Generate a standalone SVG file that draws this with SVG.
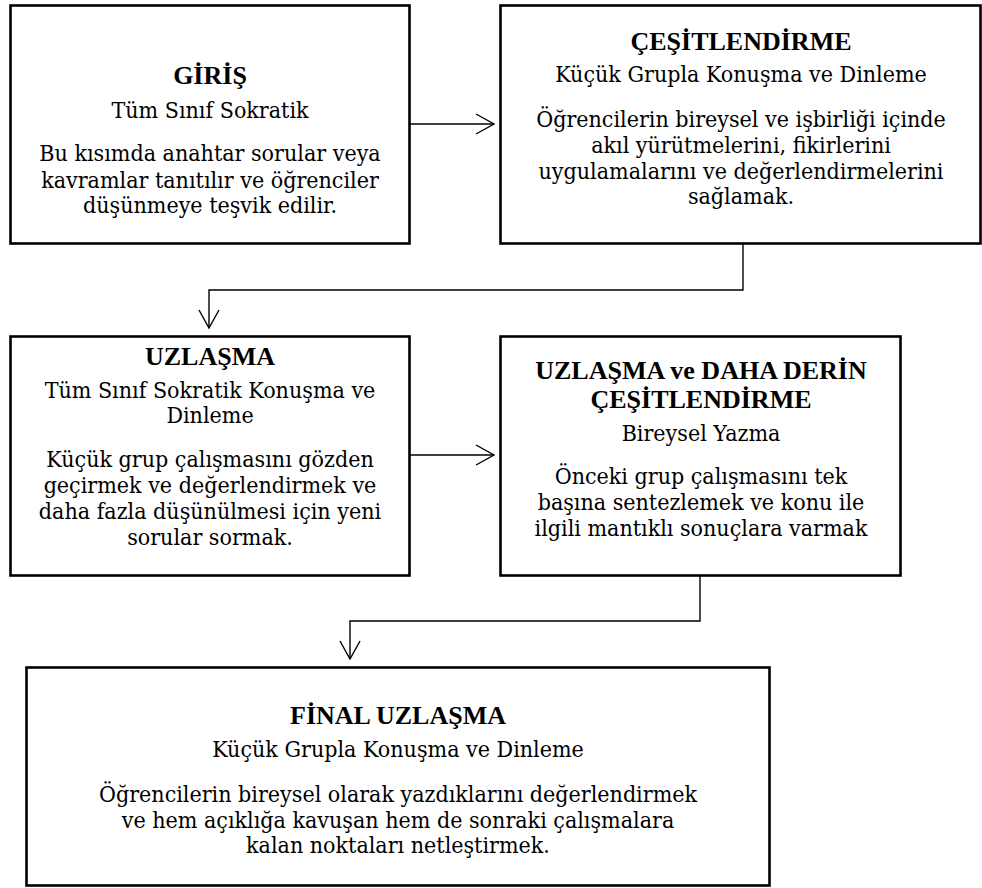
<svg xmlns="http://www.w3.org/2000/svg" width="982" height="888" viewBox="0 0 982 888">
  <style>
    .box { fill: #ffffff; stroke: #000000; stroke-width: 2.6; }
    .link { fill: none; stroke: #000000; stroke-width: 1.4; }
    text { font-family: "DejaVu Serif", serif; font-stretch: condensed; font-size: 23px; fill: #000000; text-anchor: middle; }
    .title { font-family: "Liberation Serif", "DejaVu Serif", serif; font-stretch: normal; font-weight: bold; font-size: 26px; }
  </style>
  <defs>
    <marker id="arrow" markerWidth="20" markerHeight="22" refX="19" refY="11" orient="auto" markerUnits="userSpaceOnUse">
      <path d="M1,1 L19,11 L1,21" fill="none" stroke="#000000" stroke-width="1.4"/>
    </marker>
  </defs>

  <rect width="982" height="888" fill="#ffffff"/>

  <g id="connectors">
    <line class="link" x1="410" y1="124" x2="494" y2="124" marker-end="url(#arrow)"/>
    <polyline class="link" points="743,244 743,290 209,290 209,328" marker-end="url(#arrow)"/>
    <line class="link" x1="410" y1="455" x2="494" y2="455" marker-end="url(#arrow)"/>
    <polyline class="link" points="700,576 700,621 350,621 350,659" marker-end="url(#arrow)"/>
  </g>

  <g id="giris">
    <rect class="box" x="10.5" y="5.5" width="399" height="238"/>
    <text class="title" x="210" y="84">GİRİŞ</text>
    <text x="210" y="118">Tüm Sınıf Sokratik</text>
    <text x="210" y="161">Bu kısımda anahtar sorular veya</text>
    <text x="210" y="188">kavramlar tanıtılır ve öğrenciler</text>
    <text x="210" y="213">düşünmeye teşvik edilir.</text>
  </g>

  <g id="cesitlendirme">
    <rect class="box" x="500.5" y="5.5" width="480" height="238"/>
    <text class="title" x="741" y="50">ÇEŞİTLENDİRME</text>
    <text x="741" y="82">Küçük Grupla Konuşma ve Dinleme</text>
    <text x="741" y="127">Öğrencilerin bireysel ve işbirliği içinde</text>
    <text x="741" y="153">akıl yürütmelerini, fikirlerini</text>
    <text x="741" y="179">uygulamalarını ve değerlendirmelerini</text>
    <text x="741" y="204">sağlamak.</text>
  </g>

  <g id="uzlasma">
    <rect class="box" x="10.5" y="336.5" width="399" height="239"/>
    <text class="title" x="210" y="365">UZLAŞMA</text>
    <text x="210" y="398">Tüm Sınıf Sokratik Konuşma ve</text>
    <text x="210" y="423">Dinleme</text>
    <text x="210" y="467">Küçük grup çalışmasını gözden</text>
    <text x="210" y="493">geçirmek ve değerlendirmek ve</text>
    <text x="210" y="519">daha fazla düşünülmesi için yeni</text>
    <text x="210" y="545">sorular sormak.</text>
  </g>

  <g id="uzlasma-derin">
    <rect class="box" x="500.5" y="336.5" width="400" height="239"/>
    <text class="title" x="701" y="379">UZLAŞMA ve DAHA DERİN</text>
    <text class="title" x="701" y="408">ÇEŞİTLENDİRME</text>
    <text x="701" y="441">Bireysel Yazma</text>
    <text x="701" y="484">Önceki grup çalışmasını tek</text>
    <text x="701" y="510">başına sentezlemek ve konu ile</text>
    <text x="701" y="536">ilgili mantıklı sonuçlara varmak</text>
  </g>

  <g id="final">
    <rect class="box" x="26.5" y="667.5" width="743" height="218"/>
    <text class="title" x="398" y="724">FİNAL UZLAŞMA</text>
    <text x="398" y="757">Küçük Grupla Konuşma ve Dinleme</text>
    <text x="398" y="802">Öğrencilerin bireysel olarak yazdıklarını değerlendirmek</text>
    <text x="398" y="828">ve hem açıklığa kavuşan hem de sonraki çalışmalara</text>
    <text x="398" y="853">kalan noktaları netleştirmek.</text>
  </g>
</svg>
